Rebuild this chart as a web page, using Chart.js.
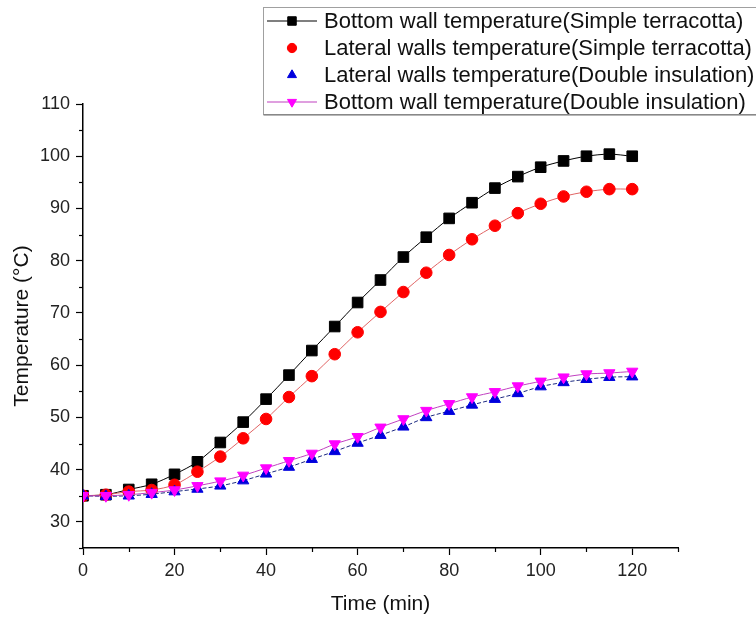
<!DOCTYPE html>
<html>
<head>
<meta charset="utf-8">
<script src="https://cdn.jsdelivr.net/npm/chart.js@4"></script>
<style>
html,body{margin:0;padding:0;background:#fff;}
#wrap{width:756px;height:620px;}
</style>
</head>
<body>
<div id="wrap"><canvas id="c" width="756" height="620"></canvas></div>
<script>
const times = [0,5,10,15,20,25,30,35,40,45,50,55,60,65,70,75,80,85,90,95,100,105,110,115,120];
const bottomTerracotta = [35.0,35.2,36.2,37.2,39.1,41.5,45.2,49.1,53.5,58.1,62.8,67.4,72.0,76.3,80.7,84.5,88.1,91.1,93.9,96.1,97.9,99.1,100.0,100.4,100.0];
const lateralTerracotta = [35.0,35.2,35.8,36.1,37.1,39.6,42.5,46.0,49.7,53.9,57.9,62.1,66.3,70.2,74.0,77.7,81.1,84.1,86.7,89.1,90.9,92.3,93.2,93.7,93.7];
const lateralDouble = [35.0,34.9,35.0,35.3,35.8,36.3,36.9,37.9,39.2,40.5,42.0,43.5,45.1,46.6,48.2,50.0,51.2,52.4,53.5,54.6,55.9,56.7,57.3,57.7,57.8];
const bottomDouble = [35.0,35.0,35.2,35.6,36.1,36.9,37.8,38.9,40.3,41.7,43.1,44.9,46.3,48.1,49.7,51.3,52.6,53.9,54.9,56.0,56.9,57.7,58.3,58.5,58.8];
const seriesLabels = [
  'Bottom wall temperature(Simple terracotta)',
  'Lateral walls temperature(Simple terracotta)',
  'Lateral walls temperature(Double insulation)',
  'Bottom wall temperature(Double insulation)'
];
const xTickLabels = [0,20,40,60,80,100,120];
const yTickLabels = [30,40,50,60,70,80,90,100,110];

function pts(arr){ return times.map((t,i)=>({x:t,y:arr[i]})); }

const FONT = '"Liberation Sans", Arial, sans-serif';

const styles = [
  {line:'#000000', lineShow:true, fill:'#000000', shape:'rect', r:7.5, rot:0, dash:[]},
  {line:'#e06464', lineShow:false, fill:'#ff0000', shape:'circle', r:5.8, rot:0, dash:[]},
  {line:'#1c2a80', lineShow:false, fill:'#0000dd', shape:'triangle', r:6.5, rot:0, dash:[4,2]},
  {line:'#c040c0', lineShow:true, fill:'#ff00ff', shape:'triangle', r:6.5, rot:180, dash:[]}
];
const seriesData = [bottomTerracotta, lateralTerracotta, lateralDouble, bottomDouble];
const orders = [3,2,1,0];

const datasets = seriesData.map((arr,i)=>({
  label: seriesLabels[i],
  data: pts(arr),
  borderColor: styles[i].line,
  borderWidth: 1,
  borderDash: styles[i].dash,
  backgroundColor: styles[i].fill,
  pointBackgroundColor: styles[i].fill,
  pointBorderColor: styles[i].fill,
  pointBorderWidth: 1,
  pointStyle: styles[i].shape,
  pointRadius: styles[i].r,
  pointRotation: styles[i].rot,
  tension: 0.3,
  order: orders[i]
}));

const minorTicks = {
  id:'minorTicks',
  afterDraw(chart){
    const ctx = chart.ctx;
    const xs = chart.scales.x, ys = chart.scales.y;
    ctx.save();
    ctx.strokeStyle = '#000';
    ctx.lineWidth = 1.2;
    xs.ticks.forEach(t=>{
      if (!xTickLabels.includes(t.value)) {
        const px = Math.round(xs.getPixelForValue(t.value))+0.5;
        ctx.beginPath(); ctx.moveTo(px, xs.top); ctx.lineTo(px, xs.top+4); ctx.stroke();
      }
    });
    ys.ticks.forEach(t=>{
      if (!yTickLabels.includes(t.value)) {
        const py = Math.round(ys.getPixelForValue(t.value))+0.5;
        ctx.beginPath(); ctx.moveTo(ys.right, py); ctx.lineTo(ys.right-4, py); ctx.stroke();
      }
    });
    ctx.restore();
  }
};

const legendBox = {
  id:'legendBox',
  afterDraw(chart){
    const ctx = chart.ctx;
    ctx.save();
    const bx = 263.5, by = 7.5, bw = 520, bh = 107;
    ctx.fillStyle = '#fff';
    ctx.fillRect(bx, by, bw, bh);
    ctx.strokeStyle = '#a0a0a0';
    ctx.lineWidth = 1;
    ctx.strokeRect(bx, by, bw, bh);
    ctx.strokeStyle = '#707070';
    ctx.beginPath(); ctx.moveTo(bx, by+bh+0.5); ctx.lineTo(bx+bw, by+bh+0.5); ctx.stroke();
    const rows = [21, 48, 75, 102];
    ctx.font = '22px ' + FONT;
    ctx.textBaseline = 'middle';
    ctx.textAlign = 'left';
    chart.data.datasets.forEach((ds,i)=>{
      const y = rows[i];
      const st = styles[i];
      if (st.lineShow) {
        ctx.strokeStyle = st.line;
        ctx.lineWidth = 1.2;
        ctx.setLineDash([]);
        ctx.beginPath(); ctx.moveTo(267, y); ctx.lineTo(317, y); ctx.stroke();
      }
      ctx.fillStyle = st.fill;
      ctx.strokeStyle = st.fill;
      ctx.lineWidth = 1;
      Chart.helpers.drawPoint(ctx, {pointStyle: st.shape, radius: st.r*0.8, rotation: st.rot, borderWidth:1}, 292, y);
      ctx.fillStyle = '#111';
      ctx.fillText(ds.label, 324, y+1);
    });
    ctx.restore();
  }
};

new Chart(document.getElementById('c'), {
  type: 'line',
  data: { datasets },
  options: {
    responsive: false,
    animation: false,
    layout: { padding: { top: 104, right: 78, left: 0, bottom: 0 } },
    plugins: { legend: { display: false }, tooltip: { enabled: false } },
    scales: {
      x: {
        type: 'linear',
        min: 0, max: 130,
        afterFit(s){ s.height = 72; },
        ticks: {
          stepSize: 10,
          autoSkip: false,
          maxRotation: 0,
          padding: 5,
          color: '#222',
          font: { size: 18, family: FONT },
          callback: v => xTickLabels.includes(v) ? String(v) : ''
        },
        grid: {
          drawOnChartArea: false,
          tickLength: 7,
          tickWidth: 1.2,
          tickColor: c => (c.tick && xTickLabels.includes(c.tick.value)) ? '#000' : 'rgba(0,0,0,0)'
        },
        border: { display: true, color: '#000', width: 1.5 },
        title: {
          display: true, text: 'Time (min)', color: '#111',
          font: { size: 21, family: FONT },
          padding: { top: 0, bottom: 3 }
        }
      },
      y: {
        type: 'linear',
        min: 25, max: 110,
        afterFit(s){ s.width = 83; },
        ticks: {
          stepSize: 5,
          autoSkip: false,
          padding: 6,
          color: '#222',
          font: { size: 18, family: FONT },
          callback: v => yTickLabels.includes(v) ? String(v) : ''
        },
        grid: {
          drawOnChartArea: false,
          tickLength: 7,
          tickWidth: 1.2,
          tickColor: c => (c.tick && yTickLabels.includes(c.tick.value)) ? '#000' : 'rgba(0,0,0,0)'
        },
        border: { display: true, color: '#000', width: 1.5 },
        title: {
          display: true, text: 'Temperature (°C)', color: '#111',
          font: { size: 21, family: FONT },
          padding: { top: 10, bottom: 0 }
        }
      }
    }
  },
  plugins: [minorTicks, legendBox]
});
</script>
</body>
</html>
